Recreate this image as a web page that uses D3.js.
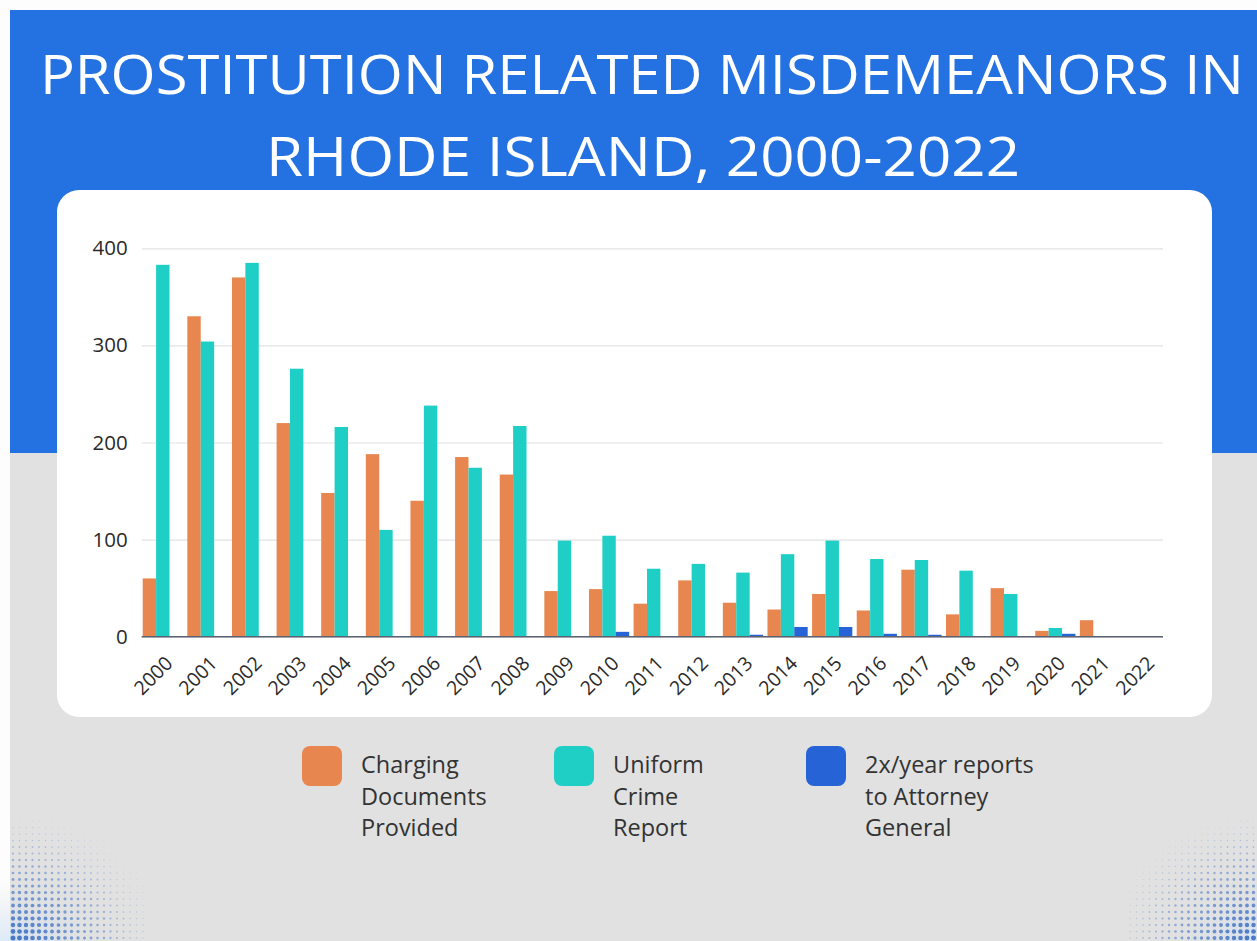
<!DOCTYPE html>
<html>
<head>
<meta charset="utf-8">
<script src="https://cdn.jsdelivr.net/npm/d3@7"></script>
<style>
  body { margin: 0; background: #fff; }
  svg { display: block; }
</style>
</head>
<body>
<script>
// Chart data
const years = ["2000","2001","2002","2003","2004","2005","2006","2007","2008","2009","2010",
               "2011","2012","2013","2014","2015","2016","2017","2018","2019","2020","2021","2022"];
const charging = [60, 330, 370, 220, 148, 188, 140, 185, 167, 47, 49, 34, 58, 35, 28, 44, 27, 69, 23, 50, 6, 17, 0];
const ucr      = [383, 304, 385, 276, 216, 110, 238, 174, 217, 99, 104, 70, 75, 66, 85, 99, 80, 79, 68, 44, 9, 0, 0];
const agReports = [0, 0, 0, 0, 0, 0, 0, 0, 0, 0, 5, 0, 0, 2, 10, 10, 3, 2, 0, 0, 3, 0, 0];
const yTicks = [0, 100, 200, 300, 400];
const seriesKeys = ["charging", "ucr", "ag"];
const seriesColors = ["#E8864F", "#1FCFC6", "#2563D6"];
const legendLabels = [
    ["Charging", "Documents", "Provided"],
    ["Uniform", "Crime", "Report"],
    ["2x/year reports", "to Attorney", "General"]
];
const titleLines = ["PROSTITUTION RELATED MISDEMEANORS IN", "RHODE ISLAND, 2000-2022"];

const W = 1257, H = 941;
const font = "'Open Sans', 'Noto Sans', sans-serif";

const svg = d3.select("body").append("svg")
    .attr("width", W)
    .attr("height", H);

// Background: blue band on top, light gray below
svg.append("rect").attr("width", W).attr("height", H).attr("fill", "#fdfdfd");
svg.append("rect").attr("x", 10).attr("y", 10).attr("width", W - 10).attr("height", 443).attr("fill", "#2471E1");
svg.append("rect").attr("x", 10).attr("y", 453).attr("width", W - 10).attr("height", H - 453).attr("fill", "#E1E1E1");

// Halftone dots in the bottom corners (decoration)
const defs = svg.append("defs");
function glow(id) {
    const g = defs.append("radialGradient").attr("id", id);
    g.append("stop").attr("offset", "0%").attr("stop-color", "#d3e5fb").attr("stop-opacity", 0.9);
    g.append("stop").attr("offset", "100%").attr("stop-color", "#e1e1e1").attr("stop-opacity", 0);
}
glow("glowL");
glow("glowR");

function halftone(cx, cy, x0, x1, y0, R, gid) {
    const layer = svg.append("g");
    layer.append("ellipse")
        .attr("cx", cx).attr("cy", cy)
        .attr("rx", R * 0.7).attr("ry", R * 0.5)
        .attr("fill", `url(#${gid})`);
    const step = 6.5;
    const dots = [];
    for (let gx = x0; gx <= x1; gx += step) {
        for (let gy = H - 3; gy >= y0; gy -= step) {
            const d = Math.hypot((gx - cx) * 0.9, gy - cy) / R;
            if (d < 1) dots.push({ x: gx, y: gy, t: 1 - d });
        }
    }
    const col = d3.interpolateRgb("#d9dbe0", "#3d70c4");
    layer.selectAll("circle")
        .data(dots)
        .enter()
        .append("circle")
        .attr("cx", d => d.x)
        .attr("cy", d => d.y)
        .attr("r", d => 0.4 + 2.3 * Math.pow(d.t, 1.1))
        .attr("fill", d => col(Math.pow(d.t, 0.9)));
}
halftone(12, H + 8, 13, 145, 815, 140, "glowL");
halftone(W + 2, H + 8, 1130, W, 815, 140, "glowR");

// Title
svg.selectAll(".title")
    .data(titleLines)
    .enter()
    .append("text")
    .attr("class", "title")
    .attr("x", (d, i) => i === 0 ? 642 : 643)
    .attr("y", (d, i) => i === 0 ? 94 : 176)
    .attr("text-anchor", "middle")
    .attr("textLength", (d, i) => i === 0 ? 1204 : 754)
    .attr("lengthAdjust", "spacingAndGlyphs")
    .style("font-family", font)
    .style("font-weight", 500)
    .style("font-size", "54px")
    .style("fill", "#ffffff")
    .text(d => d);

// White card
svg.append("rect")
    .attr("x", 57).attr("y", 190)
    .attr("width", 1155).attr("height", 527)
    .attr("rx", 22)
    .attr("fill", "#ffffff");

// Scales
const plotLeft = 142.7, plotRight = 1164.7;
const x0 = d3.scaleBand()
    .domain(years)
    .range([plotLeft, plotRight])
    .paddingInner(0.099)
    .paddingOuter(0);

const x1 = d3.scaleBand()
    .domain(seriesKeys)
    .range([0, x0.bandwidth()]);

const y = d3.scaleLinear()
    .domain([0, 400])
    .range([636.7, 248.3]);

const color = d3.scaleOrdinal().domain(seriesKeys).range(seriesColors);

// Gridlines + y labels
const yAxis = svg.append("g")
    .attr("transform", `translate(${plotLeft - 1},0)`)
    .call(d3.axisLeft(y).tickValues(yTicks).tickSize(-(1163 - plotLeft + 1)).tickPadding(14));
yAxis.select(".domain").remove();
yAxis.selectAll(".tick line")
    .attr("stroke", "#e2e2e2")
    .attr("stroke-width", 1.2);
yAxis.selectAll(".tick text")
    .style("font-family", font)
    .style("font-size", "20.5px")
    .style("fill", "#2a2a2a");

// Bars
const table = years.map((yr, i) => ({
    year: yr,
    values: [
        { key: "charging", value: charging[i] },
        { key: "ucr", value: ucr[i] },
        { key: "ag", value: agReports[i] }
    ]
}));

svg.append("g")
    .selectAll("g")
    .data(table)
    .enter()
    .append("g")
    .attr("transform", d => `translate(${x0(d.year)},0)`)
    .selectAll("rect")
    .data(d => d.values.filter(v => v.value > 0))
    .enter()
    .append("rect")
    .attr("x", d => x1(d.key))
    .attr("y", d => y(d.value))
    .attr("width", x1.bandwidth())
    .attr("height", d => y(0) - y(d.value))
    .attr("fill", d => color(d.key));

// Baseline
svg.append("line")
    .attr("x1", plotLeft - 1).attr("x2", 1163)
    .attr("y1", y(0)).attr("y2", y(0))
    .attr("stroke", "#5d6373")
    .attr("stroke-width", 1.5);

// X axis labels (rotated)
const xAxis = svg.append("g")
    .attr("transform", `translate(0,${y(0)})`)
    .call(d3.axisBottom(x0).tickSize(0));
xAxis.select(".domain").remove();
xAxis.selectAll(".tick text")
    .attr("text-anchor", "end")
    .attr("dy", null)
    .attr("y", 0)
    .attr("transform", "translate(11,28) rotate(-45)")
    .style("font-family", font)
    .style("font-size", "19.5px")
    .style("fill", "#2a2a2a");

// Legend
const legendX = [302, 554, 806];
const legend = svg.append("g")
    .selectAll("g")
    .data(legendLabels)
    .enter()
    .append("g")
    .attr("transform", (d, i) => `translate(${legendX[i]},746)`);

legend.append("rect")
    .attr("width", 40)
    .attr("height", 40)
    .attr("rx", 8)
    .attr("fill", (d, i) => seriesColors[i]);

legend.selectAll("text")
    .data(d => d)
    .enter()
    .append("text")
    .attr("x", 59)
    .attr("y", (d, i) => 27 + i * 31.5)
    .style("font-family", font)
    .style("font-size", "23.5px")
    .style("fill", "#333333")
    .text(d => d);
</script>
</body>
</html>
